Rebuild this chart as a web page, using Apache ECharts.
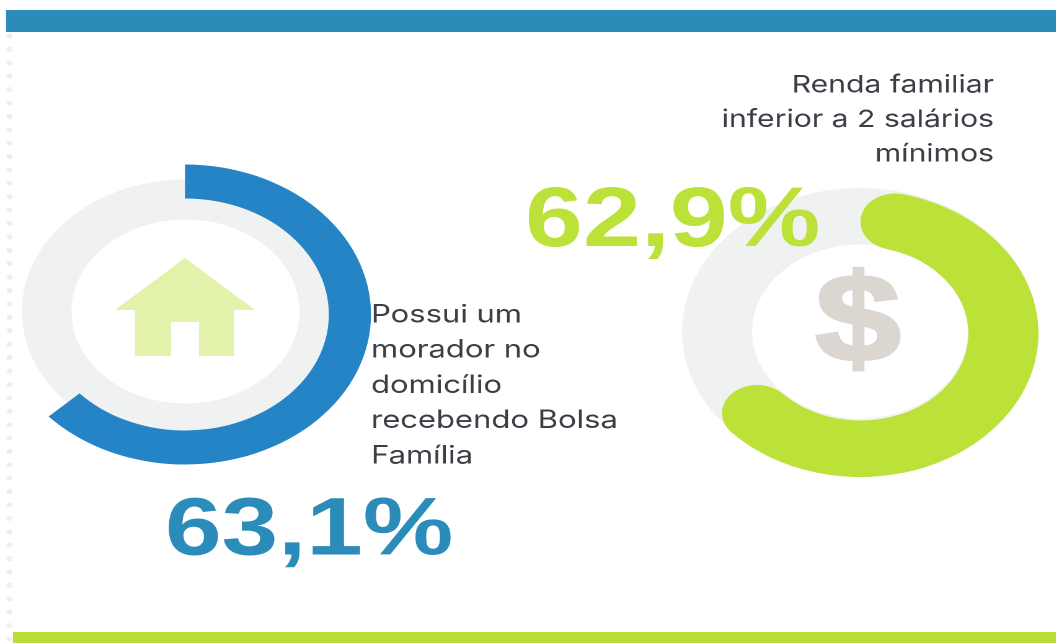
<!DOCTYPE html>
<html>
<head>
<meta charset="utf-8">
<style>
  html, body { margin: 0; padding: 0; background: #fff; overflow: hidden; }
  /* the reference is stretched sideways by about 1.24, circles and text alike */
  #ech { width: 852px; height: 643px; transform: scaleX(1.24); transform-origin: 0 0; }
</style>
<script src="https://cdn.jsdelivr.net/npm/echarts@6/dist/echarts.min.js"></script>
</head>
<body>
<div id="ech"></div>
<script>
var stretch = 1.24;
var sx = function(x) { return x / stretch; };

var moradorLabel = ["Possui um", "morador no", "domicílio", "recebendo Bolsa", "Família"];
var moradorValue = [63.1, 36.9];
var moradorText = "63,1%";
var rendaLabel = ["Renda familiar", "inferior a 2 salários", "mínimos"];
var rendaValue = [62.9];
var rendaText = "62,9%";

var capOvershoot = 14; // the round ends run a bit past the share

var greyRing = function(cx, cy, r0, r) {
  return {
    type: "pie", silent: true, z: 1,
    center: [sx(cx), cy], radius: [r0, r],
    label: { show: false }, labelLine: { show: false },
    itemStyle: { color: "#f0f2f2" },
    data: [100]
  };
};

var graphics = [];
// dotted edge on the left
for (var d = 0; d < 46; d++) {
  graphics.push({ type: "circle", z: 1, shape: { cx: sx(9.5), cy: 36 + d * 13.4, r: 2.4 }, style: { fill: "#eeeeee" } });
}
graphics.push({ type: "rect", z: 2, shape: { x: sx(6), y: 10, width: sx(1050), height: 22 }, style: { fill: "#2b8cba" } });
graphics.push({ type: "rect", z: 2, shape: { x: sx(13), y: 632, width: sx(1043), height: 11 }, style: { fill: "#b9dc38" } });
// house
graphics.push({
  type: "polygon", z: 5,
  shape: { points: [[185, 258], [255, 310], [234, 310], [234, 356], [199, 356], [199, 322], [171, 322], [171, 356], [135, 356], [135, 310], [115, 310]].map(function(p) { return [sx(p[0]), p[1]]; }) },
  style: { fill: "#e2f2ab" }
});
graphics.push({
  type: "text", z: 5, x: sx(858), y: 327,
  style: { text: "$", font: "bold 124px 'Liberation Sans'", fill: "#dcd6d1", stroke: "#dcd6d1", lineWidth: 3, textAlign: "center", textVerticalAlign: "middle" }
});
moradorLabel.forEach(function(t, i) {
  graphics.push({
    type: "text", z: 6, x: sx(371), y: 315 + i * 35.2,
    style: { text: t, font: "25px Inter", fill: "#3d3d45", textAlign: "left", textVerticalAlign: "middle" }
  });
});
rendaLabel.forEach(function(t, i) {
  graphics.push({
    type: "text", z: 6, x: sx(994), y: 85 + i * 34.5,
    style: { text: t, font: "24.3px Inter", fill: "#3d3d45", textAlign: "right", textVerticalAlign: "middle" }
  });
});
graphics.push({
  type: "text", z: 6, x: sx(165), y: 532,
  style: { text: moradorText, font: "bold 82px 'Liberation Sans'", fill: "#2b8cba", textAlign: "left", textVerticalAlign: "middle" }
});
graphics.push({
  type: "text", z: 6, x: sx(525), y: 223,
  style: { text: rendaText, font: "bold 84px 'Liberation Sans'", fill: "#bce138", textAlign: "left", textVerticalAlign: "middle" }
});

var myChart = echarts.init(document.getElementById("ech"), null, { devicePixelRatio: 2 });
var option = {
  animation: false,
  backgroundColor: "#fff",
  graphic: graphics,
  series: [
    greyRing(185.5, 311.5, 92, 132),
    {
      type: "pie", silent: true, z: 2,
      center: [sx(185), 314.5], radius: [116, 150],
      startAngle: 90,
      label: { show: false }, labelLine: { show: false },
      data: [
        { value: moradorValue[0], itemStyle: { color: "#2584c6" } },
        { value: moradorValue[1], itemStyle: { color: "rgba(0,0,0,0)" } }
      ]
    },
    greyRing(860, 331.5, 87, 143.5),
    {
      type: "pie", silent: true, z: 2,
      center: [sx(860.5), 333.5], radius: [87, 143.5],
      startAngle: 90,
      endAngle: 90 - 3.6 * rendaValue[0] - capOvershoot,
      label: { show: false }, labelLine: { show: false },
      itemStyle: { color: "#bce138", borderRadius: 28 },
      data: rendaValue
    }
  ]
};
myChart.setOption(option);
</script>
</body>
</html>
